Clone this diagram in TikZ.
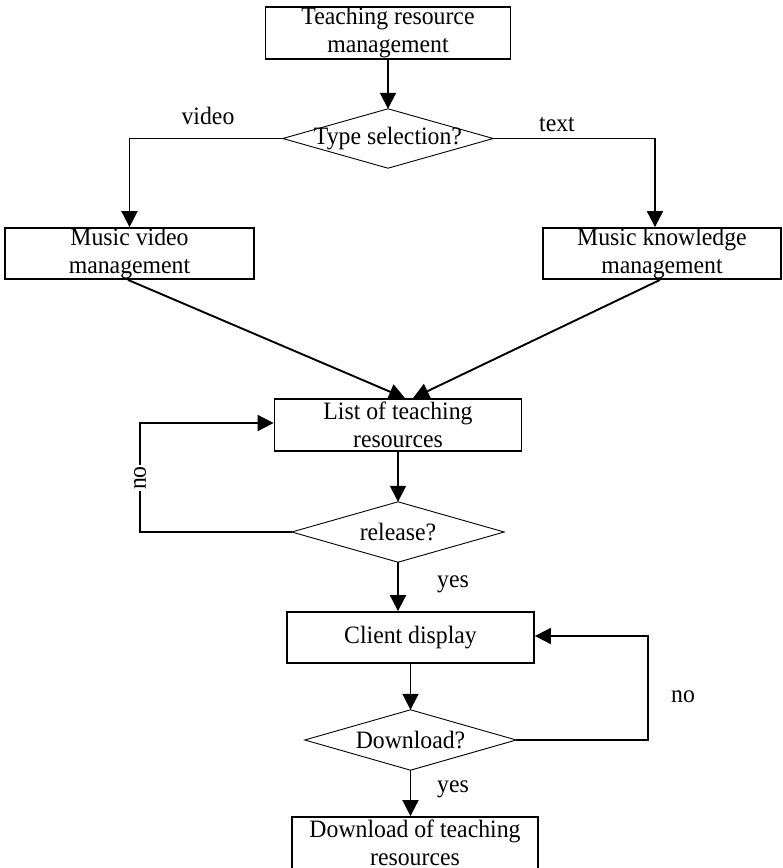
\documentclass[tikz,border=0pt]{standalone}
\usepackage{fontspec}
\setmainfont{Liberation Serif}[FakeStretch=0.95]
\usetikzlibrary{arrows.meta}
\begin{document}
\begin{tikzpicture}[x=1pt,y=-1pt,
  font=\fontsize{25}{28}\selectfont,
  box/.style={draw, line width=1.8pt, minimum height=51pt, inner sep=0pt, align=center},
  choice/.style={inner sep=0pt, align=center},
  rhomb/.style={line width=0.9pt, line join=miter},
  flow/.style={line width=1.9pt, -{Triangle[length=16pt,width=16pt]}},
  lbl/.style={inner sep=0pt}]
\useasboundingbox (0,0) rectangle (783,868);

% process boxes
\node[box, minimum width=245pt, minimum height=52pt] (top) at (388,33) {Teaching resource\\management};
\node[box, minimum width=249pt] (left) at (129.5,253.5) {Music video\\management};
\node[box, minimum width=238pt] (right) at (662,253.5) {Music knowledge\\management};
\node[box, minimum width=247pt, minimum height=52pt] (list) at (398,425) {List of teaching\\resources};
\node[box, minimum width=247pt] (client) at (410.5,637.5) {Client display};
\node[box, minimum width=246pt, minimum height=52pt] (bottom) at (415,843) {Download of teaching\\resources};

% decisions
\node[choice, minimum width=210pt, minimum height=59pt] (type) at (388,138.5) {Type selection?};
\node[choice, minimum width=212pt, minimum height=60pt] (release) at (398,532) {release?};
\node[choice, minimum width=211pt, minimum height=60pt] (download) at (410.5,740) {Download?};
\foreach \d in {type,release,download}
  \draw[rhomb] (\d.west) -- (\d.north) -- (\d.east) -- (\d.south) -- cycle;

% turning points of the loops
\coordinate (relturn) at (140,532);
\coordinate (dlturn) at (648,740);

% connectors
\draw[flow] (top.south) -- (type.north);
\draw[flow] (type.west) -| (left.north);
\draw[flow] (type.east) -| ([xshift=-7pt]right.north);
\draw[flow] ([xshift=-1.5pt]left.south) -- ([xshift=7pt]list.north);
\draw[flow] ([xshift=-2pt]right.south) -- ([xshift=15pt]list.north);
\draw[flow] (list.south) -- (release.north);
\draw[flow] (release.west) -- (relturn) |- ([yshift=2pt]list.west);
\draw[flow] (release.south) -- (release.south |- client.north);
\draw[flow] (client.south) -- (download.north);
\draw[flow] (download.east) -- (dlturn) |- ([yshift=1.5pt]client.east);
\draw[flow] (download.south) -- (download.south |- bottom.north);

% branch labels
\node[lbl] (lvideo) at (208,116) {video};
\node[lbl] (ltext) at (557,125) {text};
\node[lbl, rotate=90, fill=white, inner sep=1.5pt] (lno1) at (140,478) {no};
\node[lbl] (lyes1) at (453,584) {yes};
\node[lbl] (lno2) at (683,697) {no};
\node[lbl] (lyes2) at (453,789) {yes};
\end{tikzpicture}
\end{document}
